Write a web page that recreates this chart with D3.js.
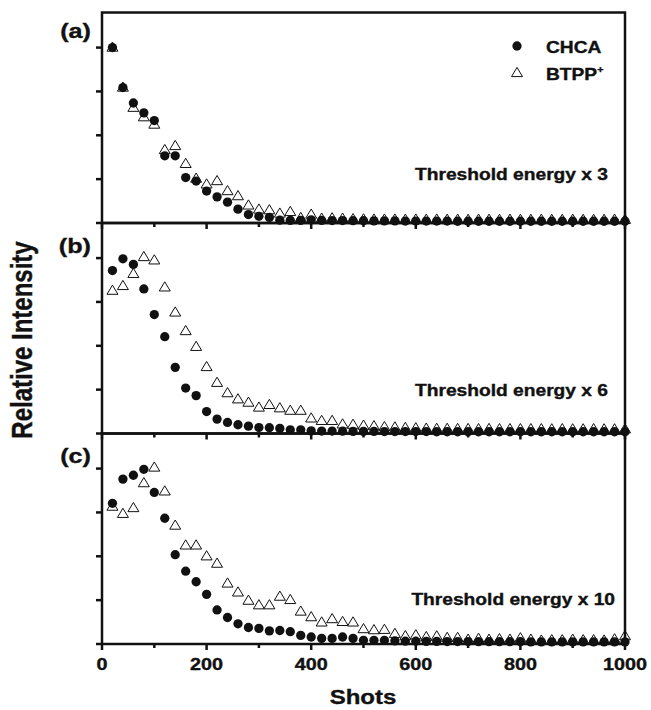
<!DOCTYPE html>
<html>
<head>
<meta charset="utf-8">
<script src="https://cdn.jsdelivr.net/npm/d3@7"></script>
<style>
  body { margin: 0; background: #fff; }
  text { font-family: "Liberation Sans", Arial, sans-serif; font-weight: bold; fill: #111; stroke: #111; stroke-width: 0.35px; }
</style>
</head>
<body>
<div id="chart"></div>
<script>
// shot number of each point
const shots = [20, 40, 60, 80, 100, 120, 140, 160, 180, 200,
    220, 240, 260, 280, 300, 320, 340, 360, 380, 400,
    420, 440, 460, 480, 500, 520, 540, 560, 580, 600,
    620, 640, 660, 680, 700, 720, 740, 760, 780, 800,
    820, 840, 860, 880, 900, 920, 940, 960, 980, 1000]

// (a) threshold energy x 3
const chcaA = [1.0, 0.772, 0.684, 0.628, 0.584, 0.383, 0.383, 0.259, 0.239, 0.182,
    0.149, 0.119, 0.079, 0.048, 0.038, 0.032, 0.016, 0.015, 0.015, 0.018,
    0.015, 0.014, 0.014, 0.013, 0.013, 0.012, 0.012, 0.012, 0.011, 0.011,
    0.011, 0.011, 0.011, 0.010, 0.010, 0.010, 0.010, 0.010, 0.010, 0.010,
    0.010, 0.010, 0.010, 0.010, 0.010, 0.010, 0.010, 0.010, 0.010, 0.010]
const btppA = [1.0, 0.772, 0.657, 0.603, 0.561, 0.416, 0.439, 0.337, 0.253, 0.220,
    0.239, 0.182, 0.153, 0.100, 0.077, 0.073, 0.054, 0.063, 0.029, 0.048,
    0.025, 0.027, 0.025, 0.022, 0.021, 0.020, 0.020, 0.020, 0.019, 0.020,
    0.019, 0.020, 0.019, 0.019, 0.018, 0.019, 0.019, 0.018, 0.019, 0.018,
    0.018, 0.019, 0.018, 0.018, 0.019, 0.018, 0.018, 0.018, 0.019, 0.018]

// (b) threshold energy x 6
const chcaB = [0.929, 0.996, 0.964, 0.824, 0.678, 0.552, 0.377, 0.259, 0.216, 0.125,
    0.082, 0.063, 0.050, 0.042, 0.034, 0.033, 0.029, 0.021, 0.021, 0.015,
    0.014, 0.014, 0.013, 0.012, 0.012, 0.012, 0.011, 0.011, 0.011, 0.011,
    0.011, 0.010, 0.010, 0.010, 0.010, 0.010, 0.010, 0.010, 0.010, 0.010,
    0.010, 0.010, 0.010, 0.010, 0.010, 0.010, 0.010, 0.010, 0.010, 0.010]
const btppB = [0.814, 0.841, 0.910, 1.006, 0.987, 0.833, 0.690, 0.584, 0.494, 0.379,
    0.289, 0.230, 0.195, 0.176, 0.148, 0.163, 0.144, 0.130, 0.130, 0.086,
    0.072, 0.072, 0.052, 0.050, 0.045, 0.042, 0.037, 0.035, 0.032, 0.030,
    0.028, 0.027, 0.027, 0.026, 0.026, 0.025, 0.026, 0.025, 0.025, 0.025,
    0.025, 0.025, 0.024, 0.025, 0.024, 0.024, 0.025, 0.024, 0.024, 0.024]

// (c) threshold energy x 10
const chcaC = [0.802, 0.940, 0.962, 0.996, 0.864, 0.717, 0.509, 0.415, 0.355, 0.283,
    0.194, 0.151, 0.115, 0.094, 0.089, 0.075, 0.077, 0.070, 0.049, 0.040,
    0.032, 0.032, 0.040, 0.032, 0.021, 0.021, 0.021, 0.018, 0.016, 0.016,
    0.015, 0.015, 0.014, 0.014, 0.014, 0.013, 0.013, 0.013, 0.013, 0.013,
    0.012, 0.012, 0.012, 0.012, 0.012, 0.012, 0.012, 0.012, 0.012, 0.012]
const btppC = [0.783, 0.742, 0.775, 0.917, 1.006, 0.870, 0.675, 0.562, 0.562, 0.500,
    0.458, 0.345, 0.294, 0.247, 0.221, 0.221, 0.270, 0.251, 0.185, 0.153,
    0.123, 0.142, 0.126, 0.123, 0.085, 0.079, 0.081, 0.058, 0.045, 0.050,
    0.040, 0.044, 0.035, 0.035, 0.025, 0.030, 0.025, 0.028, 0.025, 0.033,
    0.025, 0.020, 0.022, 0.022, 0.025, 0.022, 0.022, 0.020, 0.027, 0.045]

const panelLabels = ["(a)", "(b)", "(c)"]
const panelNotes = ["Threshold energy x 3", "Threshold energy x 6", "Threshold energy x 10"]
const chcaSeries = [chcaA, chcaB, chcaC]
const btppSeries = [btppA, btppB, btppC]
const yTicks = [0, 0.25, 0.5, 0.75, 1.0]
const xMajor = [0, 200, 400, 600, 800, 1000]
const xMinor = [100, 300, 500, 700, 900]

const W = 651, H = 710
const left = 102, right = 625
const top0 = 12.5, panelH = 210.5
const sx = 1.2 // the source figure is stretched sideways

const svg = d3.select("#chart").append("svg")
    .attr("width", W)
    .attr("height", H)

const x = d3.scaleLinear().domain([0, 1000]).range([left, right])

const triangle = "M0,-5.6L5.5,3.6L-5.5,3.6Z"
const dot = d3.symbol().type(d3.symbolCircle).size(68)

function stretchText(g, tx, ty, str, size, anchor) {
    return g.append("text")
        .attr("transform", `translate(${tx},${ty}) scale(${sx},1)`)
        .attr("text-anchor", anchor)
        .attr("font-size", size)
        .text(str)
}

panelLabels.forEach((label, i) => {
    const top = top0 + i * panelH
    const bottom = top + panelH
    const y = d3.scaleLinear().domain([0, 1.2]).range([bottom, top])
    const g = svg.append("g")

    // BTPP+ first (open triangles), CHCA dots drawn over them
    g.selectAll(".tri")
        .data(shots.map((s, k) => [s, btppSeries[i][k]]))
        .enter().append("path")
        .attr("class", "tri")
        .attr("d", triangle)
        .attr("transform", d => `translate(${x(d[0])},${y(d[1])})`)
        .attr("fill", "#fff")
        .attr("stroke", "#111")
        .attr("stroke-width", 1)

    g.selectAll(".dot")
        .data(shots.map((s, k) => [s, chcaSeries[i][k]]))
        .enter().append("path")
        .attr("class", "dot")
        .attr("d", dot)
        .attr("transform", d => `translate(${x(d[0])},${y(d[1])})`)
        .attr("fill", "#111")

    // frame
    g.append("rect")
        .attr("x", left)
        .attr("y", top)
        .attr("width", right - left)
        .attr("height", panelH)
        .attr("fill", "none")
        .attr("stroke", "#111")
        .attr("stroke-width", 2.5)

    // y ticks, outward, no labels
    g.selectAll(".ytick")
        .data(yTicks)
        .enter().append("line")
        .attr("x1", left - 6)
        .attr("x2", left)
        .attr("y1", d => y(d))
        .attr("y2", d => y(d))
        .attr("stroke", "#111")
        .attr("stroke-width", 2.5)

    // x ticks below each panel
    g.selectAll(".xmaj")
        .data(xMajor)
        .enter().append("line")
        .attr("x1", d => x(d))
        .attr("x2", d => x(d))
        .attr("y1", bottom)
        .attr("y2", bottom + 6)
        .attr("stroke", "#111")
        .attr("stroke-width", 2.5)
    g.selectAll(".xmin")
        .data(xMinor)
        .enter().append("line")
        .attr("x1", d => x(d))
        .attr("x2", d => x(d))
        .attr("y1", bottom)
        .attr("y2", bottom + 4)
        .attr("stroke", "#111")
        .attr("stroke-width", 2.5)

    stretchText(g, 91, top + 25.5 + (i > 0 ? 4 : 0), label, 21, "end")
    stretchText(g, i == 2 ? 615 : 608, top + [167.5, 172.5, 171][i], panelNotes[i], 16, "end")

    if (i == 2) {
        g.selectAll(".xlab")
            .data(xMajor)
            .enter().append("text")
            .attr("transform", d => `translate(${x(d)},670) scale(${sx},1)`)
            .attr("text-anchor", "middle")
            .attr("font-size", 16.5)
            .text(d => d)
    }
})

// legend
const legend = svg.append("g")
legend.append("path")
    .attr("d", dot)
    .attr("transform", "translate(517,46)")
    .attr("fill", "#111")
legend.append("path")
    .attr("d", triangle)
    .attr("transform", "translate(517,73)")
    .attr("fill", "#fff")
    .attr("stroke", "#111")
    .attr("stroke-width", 1)
stretchText(legend, 546, 52.5, "CHCA", 16, "start")
const bt = stretchText(legend, 546, 80, "BTPP", 16, "start")
bt.append("tspan")
    .attr("dy", -7)
    .attr("font-size", 9)
    .text("+")

// axis titles
stretchText(svg, 363, 704, "Shots", 20, "middle")
svg.append("text")
    .attr("transform", `translate(32,340) scale(${sx},1) rotate(-90)`)
    .attr("text-anchor", "middle")
    .attr("font-size", 24)
    .text("Relative Intensity")
</script>
</body>
</html>
